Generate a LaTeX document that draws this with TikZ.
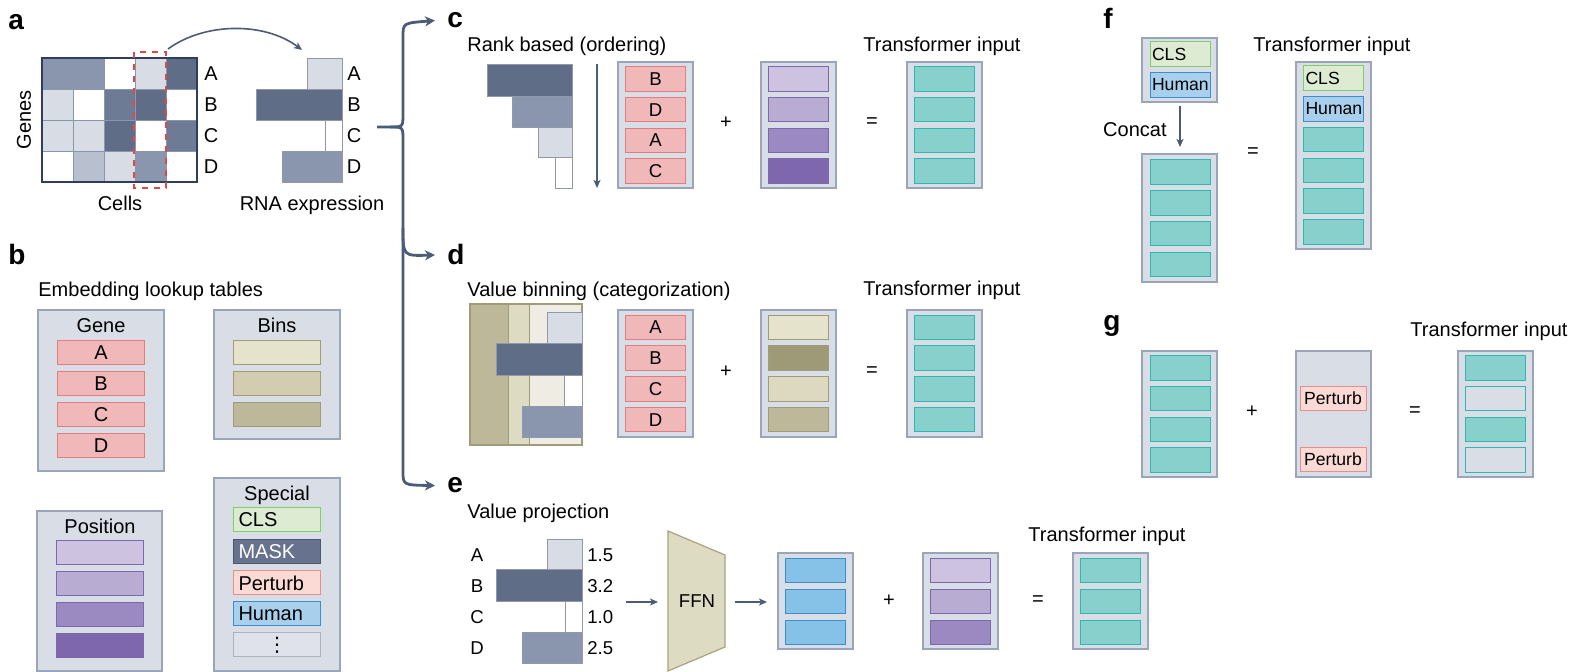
\documentclass[tikz,border=0pt]{standalone}
\usepackage{fontspec}
\setmainfont{Liberation Sans}
\newfontfamily\symfont{DejaVu Sans}
\usetikzlibrary{arrows.meta}

\definecolor{slateD}{HTML}{5F6D87}
\definecolor{slateK}{HTML}{6E7B95}
\definecolor{slateM}{HTML}{8A96AD}
\definecolor{slateLM}{HTML}{B8C0D0}
\definecolor{slateL}{HTML}{D8DCE5}
\definecolor{gridline}{HTML}{2F3E5C}
\definecolor{boxfill}{HTML}{D9DDE6}
\definecolor{boxline}{HTML}{9AA5BB}
\definecolor{arrowc}{HTML}{4B5B7A}
\definecolor{genefill}{HTML}{F0B8B8}
\definecolor{geneline}{HTML}{E37D7D}
\definecolor{posA}{HTML}{CDC3E1}
\definecolor{posB}{HTML}{B9ACD3}
\definecolor{posC}{HTML}{9B89C2}
\definecolor{posD}{HTML}{7E67AD}
\definecolor{posline}{HTML}{7D68B0}
\definecolor{tealfill}{HTML}{87D0CC}
\definecolor{tealline}{HTML}{2DB8B4}
\definecolor{binA}{HTML}{E6E3CD}
\definecolor{binB}{HTML}{D2CDB0}
\definecolor{binC}{HTML}{BDB899}
\definecolor{binD}{HTML}{9E9A78}
\definecolor{binE}{HTML}{DDD9C0}
\definecolor{binline}{HTML}{A09B7B}
\definecolor{bandA}{HTML}{BDB899}
\definecolor{bandB}{HTML}{DEDBC3}
\definecolor{bandC}{HTML}{EFEDE3}
\definecolor{clsfill}{HTML}{DCEBD1}
\definecolor{clsline}{HTML}{7CCF6B}
\definecolor{maskfill}{HTML}{66728E}
\definecolor{maskline}{HTML}{4A5672}
\definecolor{pertfill}{HTML}{FBDAD6}
\definecolor{pertline}{HTML}{E88C8C}
\definecolor{humfill}{HTML}{A8D0EC}
\definecolor{humline}{HTML}{3B8FD0}
\definecolor{valfill}{HTML}{86C1E8}
\definecolor{dotsfill}{HTML}{DFE2EA}
\definecolor{dotsline}{HTML}{AAB2C3}
\definecolor{ffnfill}{HTML}{DEDBC3}
\definecolor{ffnline}{HTML}{A8A37F}
\definecolor{selred}{HTML}{E04848}

\tikzset{
  txt/.style={font=\fontsize{10}{12}\selectfont, inner sep=0pt},
  sm/.style={font=\fontsize{9.3}{11}\selectfont, inner sep=0pt},
  lbl/.style={font=\fontsize{14}{16}\selectfont\bfseries, inner sep=0pt},
  tbl/.style={draw=boxline, fill=boxfill, line width=1pt},
  emb/.style={draw, line width=0.5pt, minimum width=30pt, minimum height=12.25pt, inner sep=0pt, font=\fontsize{9.3}{11}\selectfont},
  bemb/.style={emb, minimum width=43.5pt, minimum height=12pt, font=\fontsize{10}{12}\selectfont},
  spec/.style={bemb, text width=38.5pt, align=left},
  femb/.style={emb, font=\fontsize{8.8}{10}\selectfont, text width=28pt, align=left},
  gene/.style={fill=genefill, draw=geneline},
  tok/.style={fill=tealfill, draw=tealline},
  bar/.style={draw=slateD!70, line width=0.4pt},
  branch/.style={draw=arrowc, line width=1.4pt, -{Stealth[length=5pt,width=5pt,inset=1.5pt]}},
  flow/.style={draw=arrowc, line width=0.8pt, -{Stealth[length=4pt,width=3.5pt,inset=1pt]}},
}

\begin{document}
\begin{tikzpicture}[x=0.5pt, y=-0.5pt]
  \useasboundingbox (0,0) rectangle (1581,672);

  % a: genes x cells
  \node[lbl, anchor=base west] (la) at (8,30) {a};
  \foreach \row [count=\j from 0] in {{slateM,slateM,white,slateL,slateD},{slateL,white,slateK,slateD,white},{slateL,slateL,slateD,white,slateK},{white,slateLM,slateL,slateM,white}}
    \foreach \c [count=\i from 0] in \row
      \draw[fill=\c, draw=slateM, line width=0.4pt] (42+31*\i,58+31*\j) rectangle ++(31,31);
  \draw[draw=gridline, line width=1pt] (42,58) rectangle (197,182);
  \draw[draw=selred, dashed, line width=0.8pt] (134,52) rectangle (166,188);
  \node[txt, rotate=90] (tGenes) at (24,120) {Genes};
  \node[txt, anchor=base] (tCells) at (120,211) {Cells};

  % a: one cell
  \draw[bar, fill=slateL] (307,58) rectangle (342,89);
  \draw[bar, fill=slateD] (256,89) rectangle (342,120);
  \draw[bar, fill=white] (325,120) rectangle (342,151);
  \draw[bar, fill=slateM] (282,151) rectangle (342,182);
  \foreach \g [count=\j from 0] in {A,B,C,D} {
    \node[txt] (ga\g) at (211,73.5+31*\j) {\g};
    \node[txt] (ra\g) at (354,73.5+31*\j) {\g};
  }
  \node[txt, anchor=base] (tRna) at (312,211) {RNA expression};
  \coordinate (selTop) at (168,49);
  \coordinate (rnaTop) at (302,50);
  \draw[flow] (selTop) .. controls (205,22) and (265,22) .. (rnaTop);

  % branches to c, d, e
  \node[lbl, anchor=base west] (lc) at (447,28) {c};
  \node[lbl, anchor=base west] (ld) at (447,265) {d};
  \node[lbl, anchor=base west] (le) at (447,493) {e};
  \coordinate (braceIn) at (377,127);
  \draw[branch] (braceIn) -- (390,127) .. controls (403,127) .. (403,114) -- (403,37) .. controls (403,23) .. ([xshift=-6pt]lc.west);
  \draw[branch] (390,127) .. controls (403,127) .. (403,140) -- (403,471) .. controls (403,485) .. ([xshift=-6pt]le.west);
  \draw[branch] (403,228) .. controls (403,256) .. ([xshift=-6pt]ld.west);

  % b: lookup tables
  \node[lbl, anchor=base west] (lb) at (8,265) {b};
  \node[txt, anchor=base west] (tEmb) at (38,297) {Embedding lookup tables};
  \draw[tbl] (38,310) rectangle (164,471);
  \node[txt, anchor=base] (tGene) at (101,333) {Gene};
  \foreach \g [count=\k from 0] in {A,B,C,D}
    \node[bemb, gene] (bg\g) at (101,353+31*\k) {\g};
  \draw[tbl] (214,310) rectangle (340,439);
  \node[txt, anchor=base] (tBins) at (277,333) {Bins};
  \foreach \c [count=\k from 0] in {binA,binB,binC}
    \node[bemb, fill=\c, draw=binline] (bb\k) at (277,353+31*\k) {};
  \draw[tbl] (37,511) rectangle (162,671);
  \node[txt, anchor=base] (tPos) at (100,534) {Position};
  \foreach \c [count=\k from 0] in {posA,posB,posC,posD}
    \node[bemb, fill=\c, draw=posline] (bp\k) at (99.5,553+30.7*\k) {};
  \draw[tbl] (214,478) rectangle (340,671);
  \node[txt, anchor=base] (tSpec) at (277,501) {Special};
  \node[spec, fill=clsfill, draw=clsline] (bsCls) at (277,520) {CLS};
  \node[spec, fill=maskfill, draw=maskline, text=white] (bsMask) at (277,552) {MASK};
  \node[spec, fill=pertfill, draw=pertline] (bsPert) at (277,583) {Perturb};
  \node[spec, fill=humfill, draw=humline] (bsHum) at (277,614) {Human};
  \node[bemb, fill=dotsfill, draw=dotsline] (bsDots) at (277,645) {\symfont ⋮};

  % c: rank based
  \node[txt, anchor=base west] (tRank) at (467,52) {Rank based (ordering)};
  \draw[bar, fill=slateD] (487,64) rectangle (572,96);
  \draw[bar, fill=slateM] (512,96) rectangle (572,127);
  \draw[bar, fill=slateL] (538,127) rectangle (572,157);
  \draw[bar, fill=white] (555,157) rectangle (572,188);
  \coordinate (rankTop) at (597,64);
  \coordinate (rankEnd) at (597,188);
  \draw[flow] (rankTop) -- (rankEnd);
  \draw[tbl] (618,62) rectangle (693,188);
  \foreach \g [count=\k from 0] in {B,D,A,C}
    \node[emb, gene] (cg\k) at (655.5,79+30.75*\k) {\g};
  \node[txt] (cPlus) at (726,123) {+};
  \draw[tbl] (761,62) rectangle (836,188);
  \foreach \c [count=\k from 0] in {posA,posB,posC,posD}
    \node[emb, fill=\c, draw=posline] (cp\k) at (798.5,79+30.75*\k) {};
  \node[txt] (cEq) at (872,123) {=};
  \node[txt, anchor=base west] (tTrC) at (863,52) {Transformer input};
  \draw[tbl] (907,62) rectangle (982,188);
  \foreach \k in {0,...,3}
    \node[emb, tok] (ct\k) at (944.5,79+30.75*\k) {};

  % d: value binning
  \node[txt, anchor=base west] (tBin) at (467,297) {Value binning (categorization)};
  \fill[bandA] (470,304) rectangle (508,445);
  \fill[bandB] (508,304) rectangle (529,445);
  \fill[bandC] (529,304) rectangle (582,445);
  \draw[draw=binline, line width=0.4pt] (508,304) -- (508,445) (529,304) -- (529,445);
  \draw[draw=binline, line width=0.8pt] (470,304) rectangle (582,445);
  \draw[bar, fill=slateL] (547,312) rectangle (582,343);
  \draw[bar, fill=slateD] (496,343) rectangle (582,375);
  \draw[bar, fill=white] (564,375) rectangle (582,406);
  \draw[bar, fill=slateM] (522,406) rectangle (582,437);
  \draw[tbl] (618,310) rectangle (693,437);
  \foreach \g [count=\k from 0] in {A,B,C,D}
    \node[emb, gene] (dg\k) at (655.5,327.5+30.75*\k) {\g};
  \node[txt] (dPlus) at (726,372) {+};
  \draw[tbl] (761,310) rectangle (836,437);
  \foreach \c [count=\k from 0] in {binA,binD,binE,binC}
    \node[emb, fill=\c, draw=binline] (db\k) at (798.5,327.5+30.75*\k) {};
  \node[txt] (dEq) at (872,372) {=};
  \node[txt, anchor=base west] (tTrD) at (863,296) {Transformer input};
  \draw[tbl] (907,310) rectangle (982,437);
  \foreach \k in {0,...,3}
    \node[emb, tok] (dt\k) at (944.5,327.5+30.75*\k) {};

  % e: value projection
  \node[txt, anchor=base west] (tProj) at (467,519) {Value projection};
  \draw[bar, fill=slateL] (547,539) rectangle (582,569);
  \draw[bar, fill=slateD] (496,569) rectangle (582,601);
  \draw[bar, fill=white] (565,601) rectangle (582,632);
  \draw[bar, fill=slateM] (522,632) rectangle (582,663);
  \foreach \g/\v [count=\k from 0] in {A/1.5,B/3.2,C/1.0,D/2.5} {
    \node[sm] (eg\g) at (477,555+31*\k) {\g};
    \node[sm, anchor=west] (ev\g) at (587,555+31*\k) {\v};
  }
  \coordinate (barsOut) at (626,602);
  \coordinate (ffnIn) at (658,602);
  \draw[flow] (barsOut) -- (ffnIn);
  \draw[fill=ffnfill, draw=ffnline, line width=0.6pt] (668,531) -- (725,555) -- (725,647) -- (668,671) -- cycle;
  \node[sm] (ffn) at (697,601) {FFN};
  \coordinate (ffnOut) at (735,602);
  \coordinate (valIn) at (767,602);
  \draw[flow] (ffnOut) -- (valIn);
  \draw[tbl] (778,553) rectangle (853,649);
  \foreach \k in {0,1,2}
    \node[emb, fill=valfill, draw=humline] (ev\k) at (815.5,570.5+31*\k) {};
  \node[txt] (ePlus) at (889,601) {+};
  \draw[tbl] (923,553) rectangle (998,649);
  \foreach \c [count=\k from 0] in {posA,posB,posC}
    \node[emb, fill=\c, draw=posline] (ep\k) at (960.5,570.5+31*\k) {};
  \node[txt] (eEq) at (1038,601) {=};
  \node[txt, anchor=base west] (tTrE) at (1028,542) {Transformer input};
  \draw[tbl] (1073,553) rectangle (1148,649);
  \foreach \k in {0,1,2}
    \node[emb, tok] (et\k) at (1110.5,570.5+31*\k) {};

  % f: concat
  \node[lbl, anchor=base west] (lf) at (1103,29) {f};
  \draw[tbl] (1142,38) rectangle (1217,102);
  \node[femb, fill=clsfill, draw=clsline] (fCls) at (1180,54) {CLS};
  \node[femb, fill=humfill, draw=humline] (fHum) at (1180,85) {Human};
  \coordinate (catTop) at (1180,106);
  \coordinate (catEnd) at (1180,147);
  \draw[flow] (catTop) -- (catEnd);
  \node[txt, anchor=base east] (tCat) at (1167,137) {Concat};
  \draw[tbl] (1142,154) rectangle (1217,282);
  \foreach \k in {0,...,3}
    \node[emb, tok] (fg\k) at (1180,172+30.8*\k) {};
  \node[txt] (fEq) at (1253,153) {=};
  \node[txt, anchor=base west] (tTrF) at (1253,52) {Transformer input};
  \draw[tbl] (1296,62) rectangle (1371,249);
  \node[femb, fill=clsfill, draw=clsline] (ftCls) at (1333.5,78) {CLS};
  \node[femb, fill=humfill, draw=humline] (ftHum) at (1333.5,108.8) {Human};
  \foreach \k in {2,...,5}
    \node[emb, tok] (ft\k) at (1333.5,78+30.8*\k) {};

  % g: perturbation
  \node[lbl, anchor=base west] (lg) at (1103,331) {g};
  \draw[tbl] (1142,351) rectangle (1217,477);
  \foreach \k in {0,...,3}
    \node[emb, tok] (gx\k) at (1180,368+30.7*\k) {};
  \node[txt] (gPlus) at (1252,412) {+};
  \draw[tbl] (1296,351) rectangle (1371,477);
  \node[emb, minimum width=33pt, font=\fontsize{8.8}{10}\selectfont, fill=pertfill, draw=pertline] (gP1) at (1333,398.5) {Perturb};
  \node[emb, minimum width=33pt, font=\fontsize{8.8}{10}\selectfont, fill=pertfill, draw=pertline] (gP2) at (1333,459.5) {Perturb};
  \node[txt] (gEq) at (1415,412) {=};
  \node[txt, anchor=base west] (tTrG) at (1410,337) {Transformer input};
  \draw[tbl] (1458,351) rectangle (1533,477);
  \foreach \c [count=\k from 0] in {tealfill,boxfill,tealfill,boxfill}
    \node[emb, fill=\c, draw=tealline] (gt\k) at (1495.5,368+30.7*\k) {};

\end{tikzpicture}
\end{document}
